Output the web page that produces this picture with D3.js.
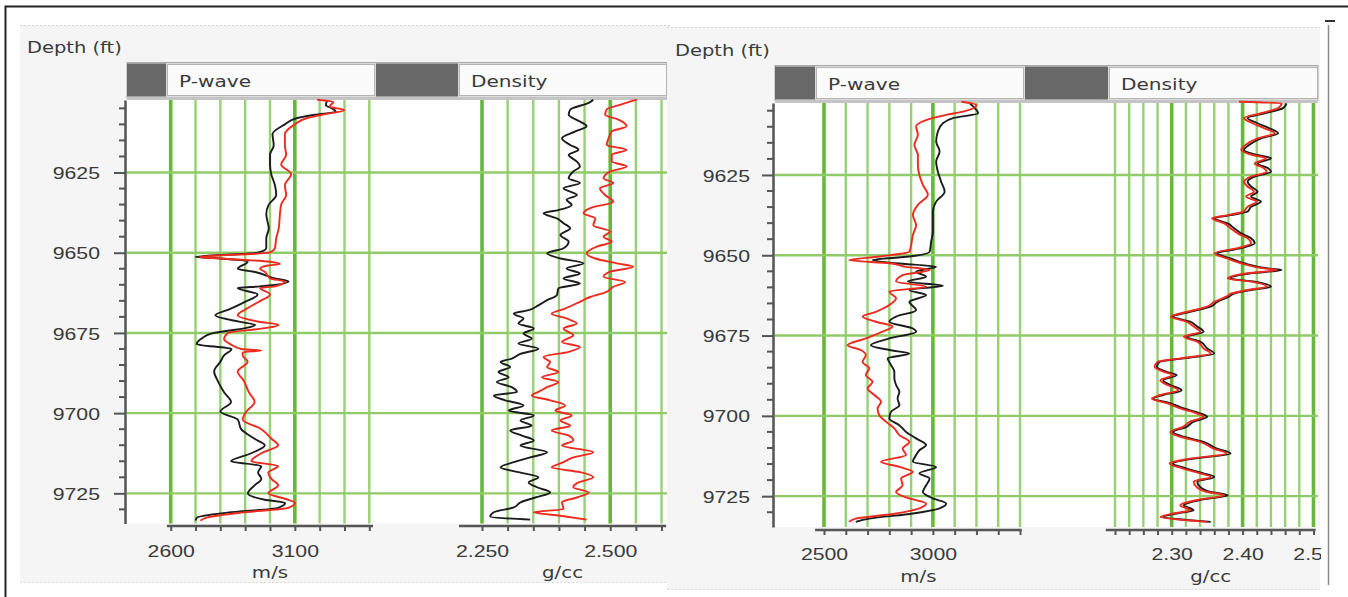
<!DOCTYPE html>
<html>
<head>
<meta charset="UTF-8">
<style>
  body { margin: 0; background: #fff; }
  svg { display: block; font-family: "DejaVu Sans", Verdana, sans-serif; }
</style>
</head>
<body>
<svg></svg>
<script src="https://d3js.org/d3.v7.min.js"></script>
<script>

let width = 1348, height = 597;

let svg = d3.select("svg")
    .attr("width", width)
    .attr("height", height);

// ---- data: [depth (ft), value] ----
// left panel, P-wave (m/s)
const lpBlack = [[9602.5,3230],[9604,3225],[9605,3250],[9606,3265],[9607,3180],[9608,3110],[9610,3060],[9613,3010],[9616.5,3015],[9619.5,3000],[9622.5,3000],[9625.5,3005],[9629,3020],[9632,3025],[9635,2995],[9638,2985],[9642.5,2995],[9645.5,2985],[9648.5,2985],[9650,2950],[9651.3,2700],[9651.8,2800],[9652.8,2910],[9655,2870],[9656,2940],[9658,3020],[9659,3075],[9660.5,2960],[9661,2870],[9663,2950],[9665.5,2895],[9667.5,2840],[9669.5,2780],[9671.5,2875],[9672.5,2940],[9673.5,2900],[9675,2775],[9677,2720],[9678.5,2705],[9680,2845],[9682,2815],[9684,2800],[9687,2775],[9690,2790],[9693.5,2815],[9696.5,2843],[9699.5,2800],[9702,2870],[9705,2884],[9708,2938],[9710,2979],[9712.5,2925],[9715,2843],[9716.5,2965],[9718.5,2952],[9720.5,2965],[9722.5,2938],[9725,2911],[9727,2979],[9728,3061],[9729.5,3033],[9731,2829],[9732.5,2707],[9733.5,2700]];
const lpRed = [[9602.3,3190],[9603,3255],[9604.5,3240],[9605.5,3300],[9607,3210],[9608,3150],[9610,3100],[9613,3060],[9616.5,3060],[9619.5,3065],[9622.5,3045],[9625.5,3085],[9629,3060],[9632,3065],[9635,3045],[9638,3040],[9642.5,3035],[9645.5,3025],[9648.5,3020],[9650,2995],[9651.3,2715],[9651.8,2800],[9652.8,3000],[9653.5,3040],[9654,2990],[9655,2960],[9656,2980],[9658,3000],[9659,3060],[9660.5,3020],[9661,2960],[9663,3000],[9665.5,2950],[9667.5,2905],[9669.5,2870],[9671.5,2955],[9672.5,3035],[9673.5,2980],[9675,2830],[9677,2815],[9678.5,2840],[9680,2885],[9680.5,2965],[9681,2890],[9682,2890],[9684,2910],[9687,2870],[9690,2895],[9693.5,2915],[9696.5,2938],[9699.5,2905],[9702,2890],[9705,2965],[9708,3006],[9710,3033],[9712.5,2965],[9715,2925],[9716.5,3033],[9718.5,2993],[9720.5,3006],[9722.5,3033],[9725,2993],[9727,3074],[9728,3101],[9729.5,3074],[9731,2884],[9732.5,2748],[9733.5,2720]];

// left panel, density (g/cc)
const ldBlack = [[9602.3,2.467],[9603.3,2.458],[9605.4,2.422],[9607.0,2.419],[9609.1,2.441],[9610.6,2.454],[9612.2,2.432],[9614.3,2.406],[9616.4,2.422],[9617.9,2.438],[9619.5,2.419],[9621.6,2.435],[9623.1,2.441],[9624.7,2.428],[9626.8,2.419],[9628.3,2.441],[9629.9,2.409],[9632.0,2.435],[9633.5,2.415],[9635.1,2.425],[9636.7,2.399],[9637.7,2.370],[9639.3,2.396],[9640.8,2.409],[9642.4,2.422],[9644.5,2.403],[9646.6,2.419],[9648.6,2.409],[9650.2,2.377],[9651.8,2.403],[9653.3,2.448],[9654.9,2.415],[9656.5,2.441],[9658.0,2.409],[9659.6,2.441],[9661.1,2.399],[9663.2,2.396],[9664.8,2.377],[9666.4,2.360],[9667.9,2.341],[9669.0,2.312],[9670.5,2.331],[9672.1,2.321],[9673.6,2.351],[9675.2,2.331],[9676.8,2.347],[9678.3,2.321],[9679.9,2.360],[9681.5,2.325],[9683.0,2.308],[9684.1,2.286],[9685.6,2.305],[9687.2,2.282],[9688.8,2.302],[9690.3,2.279],[9691.9,2.308],[9693.4,2.318],[9694.5,2.273],[9696.0,2.295],[9697.6,2.331],[9699.2,2.302],[9700.7,2.351],[9702.3,2.325],[9703.9,2.347],[9705.4,2.305],[9707.0,2.328],[9708.5,2.351],[9710.1,2.325],[9712.2,2.377],[9713.8,2.344],[9715.3,2.312],[9716.9,2.286],[9718.4,2.321],[9720.0,2.360],[9721.6,2.341],[9723.1,2.357],[9724.7,2.383],[9726.3,2.354],[9727.8,2.325],[9729.4,2.312],[9730.9,2.273],[9732.2,2.266],[9733.2,2.344]];
const ldRed = [[9602.3,2.552],[9603.9,2.519],[9605.4,2.493],[9607.0,2.490],[9608.5,2.516],[9610.6,2.532],[9612.2,2.503],[9614.3,2.497],[9616.4,2.493],[9617.9,2.532],[9619.5,2.503],[9621.6,2.503],[9623.1,2.532],[9624.7,2.500],[9626.8,2.487],[9628.3,2.506],[9629.9,2.480],[9632.0,2.490],[9634.1,2.506],[9636.1,2.461],[9637.7,2.448],[9639.3,2.471],[9641.4,2.467],[9643.4,2.500],[9645.0,2.487],[9646.6,2.503],[9648.1,2.474],[9650.2,2.454],[9651.8,2.471],[9653.3,2.513],[9654.4,2.545],[9655.9,2.500],[9657.5,2.487],[9659.1,2.529],[9660.6,2.506],[9662.2,2.493],[9663.8,2.461],[9665.3,2.441],[9667.4,2.412],[9669.0,2.386],[9670.5,2.415],[9672.1,2.435],[9673.6,2.409],[9675.7,2.428],[9677.8,2.406],[9679.4,2.441],[9680.9,2.419],[9682.5,2.370],[9684.1,2.383],[9685.6,2.377],[9687.2,2.399],[9688.8,2.367],[9690.3,2.399],[9691.9,2.377],[9693.4,2.360],[9694.5,2.347],[9696.0,2.383],[9697.6,2.412],[9699.2,2.393],[9700.7,2.425],[9702.3,2.403],[9703.9,2.422],[9705.4,2.386],[9707.0,2.419],[9708.5,2.428],[9710.1,2.406],[9712.2,2.467],[9713.8,2.428],[9715.3,2.409],[9716.9,2.386],[9718.4,2.441],[9720.0,2.467],[9721.6,2.438],[9723.1,2.428],[9724.7,2.458],[9726.3,2.435],[9727.8,2.406],[9729.9,2.409],[9730.9,2.351],[9732.0,2.403],[9733.2,2.454]];

// right panel, P-wave (m/s)
const rpBlack = [[9602.7,3169],[9604.2,3192],[9605.8,3208],[9607.3,3092],[9608.9,3046],[9611.5,3023],[9614.6,3015],[9617.7,3031],[9620.8,3015],[9624.0,3023],[9627.1,3038],[9630.2,3054],[9633.3,3015],[9636.4,3000],[9639.5,3000],[9642.7,3000],[9645.8,2992],[9648.9,2985],[9650.4,2892],[9651.5,2723],[9652.5,2831],[9653.6,3015],[9655.1,2923],[9656.7,2969],[9658.2,2885],[9659.5,3046],[9660.8,2892],[9662.4,2969],[9664.5,2892],[9667.1,2923],[9669.1,2831],[9670.7,2800],[9672.8,2908],[9673.8,2923],[9675.9,2800],[9678.0,2715],[9679.5,2800],[9680.6,2892],[9682.1,2792],[9684.2,2808],[9686.3,2823],[9688.3,2823],[9690.4,2831],[9692.5,2846],[9694.6,2838],[9696.7,2846],[9698.7,2808],[9700.8,2800],[9702.9,2846],[9705.0,2877],[9707.0,2923],[9709.1,2969],[9710.7,2938],[9712.2,2923],[9714.3,2908],[9715.9,3015],[9717.9,2938],[9719.5,2985],[9721.6,2969],[9723.7,2954],[9725.7,3000],[9727.3,3061],[9728.8,3031],[9730.4,2908],[9732.0,2708],[9733.0,2646]];
const rpRed = [[9602.2,3131],[9603.2,3200],[9605.3,3138],[9606.3,3061],[9607.9,2969],[9609.9,2923],[9612.5,2931],[9615.7,2915],[9618.8,2931],[9621.9,2931],[9625.0,2938],[9628.1,2954],[9631.2,2977],[9634.3,2931],[9637.5,2908],[9640.6,2923],[9643.7,2908],[9646.8,2900],[9648.9,2892],[9650.4,2754],[9651.5,2615],[9652.5,2800],[9653.6,2877],[9654.6,2985],[9656.2,2861],[9658.2,2831],[9659.8,2969],[9661.3,2800],[9663.4,2831],[9665.5,2800],[9667.6,2738],[9669.1,2677],[9670.7,2738],[9672.2,2815],[9673.8,2769],[9675.9,2692],[9678.0,2608],[9679.5,2669],[9681.1,2692],[9683.2,2677],[9685.2,2708],[9687.3,2692],[9689.4,2723],[9691.5,2700],[9693.5,2731],[9695.6,2762],[9697.7,2746],[9699.8,2754],[9701.8,2785],[9703.9,2823],[9706.0,2846],[9708.1,2892],[9710.2,2861],[9712.2,2877],[9714.3,2762],[9715.9,2846],[9717.4,2908],[9719.5,2854],[9721.6,2861],[9723.7,2831],[9725.7,2892],[9727.3,2969],[9728.8,2938],[9730.4,2831],[9732.0,2646],[9733.0,2615]];

// right panel, density (g/cc)
const rdBlack = [[9602.7,2.462],[9604.2,2.457],[9605.8,2.431],[9607.3,2.407],[9608.9,2.421],[9610.5,2.438],[9612.0,2.450],[9613.6,2.426],[9615.7,2.409],[9617.2,2.402],[9618.8,2.421],[9619.8,2.440],[9621.4,2.421],[9622.9,2.436],[9624.0,2.440],[9625.5,2.417],[9627.1,2.407],[9628.6,2.412],[9630.2,2.421],[9631.7,2.412],[9633.3,2.426],[9634.9,2.412],[9636.4,2.407],[9637.5,2.383],[9638.5,2.360],[9640.1,2.379],[9641.6,2.388],[9643.2,2.398],[9644.7,2.412],[9646.3,2.417],[9647.8,2.398],[9649.4,2.364],[9651.0,2.383],[9652.5,2.402],[9654.1,2.436],[9654.6,2.455],[9655.6,2.412],[9657.2,2.383],[9658.2,2.417],[9659.8,2.440],[9660.8,2.412],[9661.9,2.388],[9662.9,2.381],[9664.5,2.364],[9666.0,2.355],[9667.6,2.326],[9669.1,2.302],[9670.7,2.326],[9672.2,2.336],[9673.8,2.345],[9675.4,2.321],[9676.9,2.340],[9679.0,2.350],[9680.6,2.360],[9682.1,2.317],[9683.2,2.283],[9684.7,2.279],[9686.3,2.293],[9687.3,2.307],[9688.9,2.288],[9690.4,2.298],[9692.0,2.314],[9693.5,2.288],[9694.6,2.274],[9696.1,2.298],[9697.7,2.317],[9699.2,2.340],[9700.3,2.350],[9701.8,2.331],[9703.4,2.321],[9705.0,2.302],[9706.5,2.317],[9708.1,2.345],[9710.2,2.364],[9711.7,2.383],[9713.3,2.331],[9714.8,2.302],[9716.4,2.321],[9717.9,2.345],[9719.0,2.360],[9720.5,2.336],[9722.1,2.340],[9723.7,2.355],[9724.7,2.379],[9726.2,2.340],[9727.8,2.317],[9729.4,2.331],[9730.4,2.307],[9731.5,2.288],[9732.5,2.326],[9733.0,2.355]];
const rdRed = [[9602.2,2.395],[9602.7,2.455],[9604.2,2.450],[9605.8,2.426],[9607.3,2.402],[9608.9,2.414],[9610.5,2.431],[9612.0,2.445],[9613.6,2.421],[9615.7,2.404],[9617.2,2.398],[9618.8,2.414],[9619.8,2.433],[9621.4,2.417],[9622.9,2.430],[9624.0,2.434],[9625.5,2.412],[9627.1,2.402],[9628.6,2.407],[9630.2,2.416],[9631.7,2.405],[9633.3,2.420],[9634.9,2.407],[9636.4,2.401],[9637.5,2.379],[9638.5,2.357],[9640.1,2.374],[9641.6,2.383],[9643.2,2.393],[9644.7,2.407],[9646.3,2.412],[9647.8,2.393],[9649.4,2.360],[9651.0,2.378],[9652.5,2.398],[9654.1,2.430],[9654.6,2.448],[9655.6,2.407],[9657.2,2.379],[9658.2,2.412],[9659.8,2.434],[9660.8,2.407],[9661.9,2.384],[9662.9,2.377],[9664.5,2.360],[9666.0,2.350],[9667.6,2.322],[9669.1,2.299],[9670.7,2.321],[9672.2,2.331],[9673.8,2.340],[9675.4,2.317],[9676.9,2.336],[9679.0,2.345],[9680.6,2.355],[9682.1,2.312],[9683.2,2.280],[9684.7,2.276],[9686.3,2.289],[9687.3,2.302],[9688.9,2.284],[9690.4,2.294],[9692.0,2.309],[9693.5,2.284],[9694.6,2.272],[9696.1,2.294],[9697.7,2.312],[9699.2,2.335],[9700.3,2.345],[9701.8,2.326],[9703.4,2.316],[9705.0,2.298],[9706.5,2.312],[9708.1,2.340],[9710.2,2.359],[9711.7,2.377],[9713.3,2.326],[9714.8,2.297],[9716.4,2.316],[9717.9,2.340],[9719.0,2.355],[9720.5,2.331],[9722.1,2.335],[9723.7,2.350],[9724.7,2.374],[9726.2,2.336],[9727.8,2.312],[9729.4,2.326],[9730.4,2.302],[9731.5,2.284],[9732.5,2.321],[9733.0,2.350]];

// ---- ticks / labels ----
const depthTicks = [9625, 9650, 9675, 9700, 9725];
const depthMinor = [9605, 9610, 9615, 9620, 9630, 9635, 9640, 9645, 9655, 9660, 9665, 9670, 9680, 9685, 9690, 9695, 9705, 9710, 9715, 9720, 9730];
const lpGrid = [2600, 2700, 2800, 2900, 3000, 3100, 3200, 3300, 3400];
const lpLabels = [2600, 3100];
const ldGrid = [2.25, 2.30, 2.35, 2.40, 2.45, 2.50, 2.55, 2.60];
const ldLabels = [2.25, 2.50];
const rpGrid = [2500, 2600, 2700, 2800, 2900, 3000, 3100, 3200, 3300, 3400];
const rpLabels = [2500, 3000];
const rdGrid = [2.22, 2.24, 2.26, 2.28, 2.30, 2.32, 2.34, 2.36, 2.38, 2.40, 2.42, 2.44, 2.46, 2.48, 2.50];
const rdLabels = [2.30, 2.40, 2.50];

const SX = 1.2; // the source font is drawn wide
const txtColor = "#3a3a3a";

// outer frame
svg.append("rect")
    .attr("x", 5.5).attr("y", 6.5)
    .attr("width", 1360).attr("height", 620)
    .attr("fill", "none").attr("stroke", "#222").attr("stroke-width", 2);

let panels = [
  {
    bg: [20, 25, 650, 558], label: [27, 53],
    header: [62, 97], plot: [127, 667, 100, 523.5], axisX: 125, depth: [9602.4, 9734.4],
    labelRight: 100, bottomY: 526, tickLabelY: 557, unitY: 578, clipRight: 670,
    tracks: [
      { title: "P-wave", dark: [127, 166], box: [167, 375], domain: [2600, 3400], range: [170.7, 369.3],
        grid: lpGrid, thick: [2600, 3100], labels: lpLabels, fmt: d3.format("d"), axis: [2585, 3415],
        unit: "m/s", black: lpBlack, red: lpRed },
      { title: "Density", dark: [376, 458], box: [459, 667], domain: [2.25, 2.60], range: [482, 661.5],
        grid: ldGrid, thick: [2.25, 2.50], labels: ldLabels, fmt: d3.format(".3f"), axis: [2.205, 2.609],
        unit: "g/cc", black: ldBlack, red: ldRed }
    ]
  },
  {
    bg: [667, 27, 653, 563], label: [675, 56],
    header: [65, 100], plot: [775, 1318, 103, 527], axisX: 773, depth: [9602.6, 9734.6],
    labelRight: 750, bottomY: 530, tickLabelY: 560, unitY: 582, clipRight: 1321,
    tracks: [
      { title: "P-wave", dark: [775, 815], box: [816, 1024], domain: [2500, 3400], range: [824, 1020],
        grid: rpGrid, thick: [2500, 3000], labels: rpLabels, fmt: d3.format("d"), axis: [2459, 3408],
        unit: "m/s", black: rpBlack, red: rpRed },
      { title: "Density", dark: [1025, 1108], box: [1109, 1318], domain: [2.22, 2.50], range: [1115, 1313.5],
        grid: rdGrid, thick: [2.30, 2.40, 2.50], labels: rdLabels, fmt: d3.format(".2f"), axis: [2.207, 2.503],
        unit: "g/cc", black: rdBlack, red: rdRed }
    ]
  }
];

function near(list, v) {
  return list.some(t => Math.abs(t - v) < 1e-6);
}

function wideText(g, x, y, str, anchor, size, sx) {
  return g.append("text")
    .attr("transform", "translate(" + x + "," + y + ") scale(" + (sx || SX) + ",1)")
    .attr("text-anchor", anchor || "start")
    .style("font-size", (size || 16) + "px")
    .attr("fill", txtColor)
    .text(str);
}

panels.forEach((p, pi) => {
  let clipId = "clip" + pi;
  svg.append("defs").append("clipPath").attr("id", clipId)
    .append("rect").attr("x", p.bg[0]).attr("y", 0)
    .attr("width", p.clipRight - p.bg[0]).attr("height", height);

  let g = svg.append("g").attr("clip-path", "url(#" + clipId + ")");

  // panel background
  g.append("rect")
    .attr("x", p.bg[0]).attr("y", p.bg[1])
    .attr("width", p.bg[2]).attr("height", p.bg[3])
    .attr("fill", "#f5f5f5");
  g.append("line")
    .attr("x1", p.bg[0]).attr("x2", p.bg[0] + p.bg[2])
    .attr("y1", p.bg[1] + 0.5).attr("y2", p.bg[1] + 0.5)
    .attr("stroke", "#d6d6d6").attr("stroke-dasharray", "2,2");
  g.append("line")
    .attr("x1", p.bg[0]).attr("x2", p.bg[0] + p.bg[2])
    .attr("y1", p.bg[1] + p.bg[3] - 0.5).attr("y2", p.bg[1] + p.bg[3] - 0.5)
    .attr("stroke", "#dcdcdc").attr("stroke-dasharray", "2,2");

  wideText(g, p.label[0], p.label[1], "Depth (ft)", "start", 16.5, 1.18);

  let y = d3.scaleLinear().domain(p.depth).range([p.plot[2], p.plot[3]]);

  // plot area
  g.append("rect")
    .attr("x", p.plot[0]).attr("y", p.plot[2])
    .attr("width", p.plot[1] - p.plot[0]).attr("height", p.plot[3] - p.plot[2])
    .attr("fill", "#fff");

  // header bar
  let h0 = p.header[0], h1 = p.header[1];
  g.append("rect")
    .attr("x", p.plot[0]).attr("y", h0 + 0.5)
    .attr("width", p.plot[1] - p.plot[0]).attr("height", h1 - h0)
    .attr("fill", "#dcdcdc").attr("stroke", "#a8a8a8");
  g.append("rect")
    .attr("x", p.plot[0]).attr("y", h1)
    .attr("width", p.plot[1] - p.plot[0]).attr("height", 3)
    .attr("fill", "#c4c4c4");
  p.tracks.forEach(t => {
    g.append("rect")
      .attr("x", t.dark[0]).attr("y", h0 + 1.5)
      .attr("width", t.dark[1] - t.dark[0]).attr("height", h1 - h0 - 2)
      .attr("fill", "#686868");
    g.append("rect")
      .attr("x", t.box[0] + 0.5).attr("y", h0 + 2.5)
      .attr("width", t.box[1] - t.box[0] - 1).attr("height", h1 - h0 - 4)
      .attr("fill", "#fbfbfb").attr("stroke", "#b4b4b4");
    wideText(g, t.box[0] + 12, h1 - 10, t.title, "start", 16.5, 1.22);
  });

  // vertical grid
  p.tracks.forEach(t => {
    t.x = d3.scaleLinear().domain(t.domain).range(t.range);
    g.append("g").selectAll("line")
      .data(t.grid)
      .join("line")
        .attr("x1", d => t.x(d)).attr("x2", d => t.x(d))
        .attr("y1", p.plot[2]).attr("y2", p.plot[3])
        .attr("stroke", d => near(t.thick, d) ? "#66b936" : "#98d074")
        .attr("stroke-width", d => near(t.thick, d) ? 3.6 : 2.4);
  });

  // horizontal grid
  g.append("g").selectAll("line")
    .data(depthTicks)
    .join("line")
      .attr("x1", p.plot[0]).attr("x2", p.plot[1])
      .attr("y1", d => y(d)).attr("y2", d => y(d))
      .attr("stroke", "#8fcb66").attr("stroke-width", 2.4);

  // curves
  p.tracks.forEach(t => {
    let line = d3.line().x(d => t.x(d[1])).y(d => y(d[0])).curve(d3.curveMonotoneY);
    g.append("path").datum(t.black)
      .attr("d", line).attr("fill", "none")
      .attr("stroke", "#1c1c1c").attr("stroke-width", 1.9)
      .attr("stroke-linejoin", "round");
    g.append("path").datum(t.red)
      .attr("d", line).attr("fill", "none")
      .attr("stroke", "#ee2a1e").attr("stroke-width", 1.9)
      .attr("stroke-linejoin", "round");
  });

  // depth axis
  let yAxis = g.append("g")
    .attr("transform", "translate(" + p.axisX + ",0)")
    .call(d3.axisLeft(y).tickValues(depthTicks).tickSize(11).tickSizeOuter(0).tickFormat(d3.format("d")));
  yAxis.select(".domain").attr("stroke", "#555").attr("stroke-width", 2.5);
  yAxis.selectAll(".tick line").attr("stroke", "#555").attr("stroke-width", 2);
  yAxis.selectAll(".tick text")
    .attr("x", null).attr("dy", "0.36em")
    .attr("transform", "translate(" + (p.labelRight - p.axisX) + ",0) scale(1.25,1)")
    .attr("fill", txtColor)
    .style("font-size", "17px").style("font-family", null);
  yAxis.selectAll(".minor")
    .data(depthMinor)
    .join("line").attr("class", "minor")
      .attr("x1", -6).attr("x2", 0)
      .attr("y1", d => y(d)).attr("y2", d => y(d))
      .attr("stroke", "#555").attr("stroke-width", 2);

  // bottom axes
  p.tracks.forEach(t => {
    let ax = g.append("g")
      .attr("transform", "translate(0," + p.bottomY + ")")
      .call(d3.axisBottom(t.x).tickValues(t.grid).tickSize(5).tickSizeOuter(0)
        .tickFormat(d => near(t.labels, d) ? t.fmt(d) : ""));
    ax.select(".domain")
      .attr("d", "M" + t.x(t.axis[0]) + ",0H" + t.x(t.axis[1]))
      .attr("stroke", "#555").attr("stroke-width", 2.5);
    ax.selectAll(".tick line").attr("stroke", "#555").attr("stroke-width", 2);
    ax.selectAll(".tick text")
      .attr("y", null).attr("dy", null)
      .attr("transform", "translate(0," + (p.tickLabelY - p.bottomY) + ") scale(1.25,1)")
      .attr("fill", txtColor)
      .style("font-size", "17px").style("font-family", null);
    wideText(g, (t.x(t.axis[0]) + t.x(t.axis[1])) / 2, p.unitY, t.unit, "middle", 16.5, 1.2);
  });
});

// scroll-bar remnant at right edge
svg.append("line")
    .attr("x1", 1328.5).attr("x2", 1328.5).attr("y1", 25).attr("y2", 585)
    .attr("stroke", "#8a8a8a").attr("stroke-width", 1.5);
svg.append("line")
    .attr("x1", 1325).attr("x2", 1335).attr("y1", 21).attr("y2", 21)
    .attr("stroke", "#333").attr("stroke-width", 2);

</script>
</body>
</html>
